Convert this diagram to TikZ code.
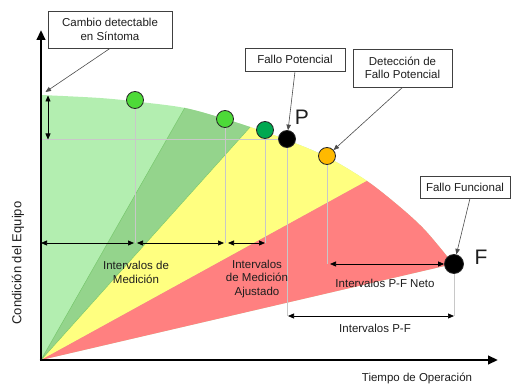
\documentclass[tikz,border=0pt]{standalone}
\usepackage{fontspec}
\setmainfont{Liberation Sans}
\usetikzlibrary{arrows.meta}
\definecolor{lgreen}{RGB}{179,238,176}
\definecolor{dgreen}{RGB}{148,212,140}
\definecolor{edgegreen}{RGB}{120,200,110}
\definecolor{yel}{RGB}{255,255,128}
\definecolor{redc}{RGB}{255,128,128}
\definecolor{cgreen}{RGB}{77,218,56}
\definecolor{cdgreen}{RGB}{0,168,80}
\definecolor{corange}{RGB}{255,185,0}
\definecolor{glinec}{RGB}{200,200,200}
\definecolor{txt}{RGB}{30,30,30}
\begin{document}
\begin{tikzpicture}[x=1pt,y=-1pt,
  lbl/.style={font=\fontsize{11.5}{13.8}\selectfont, align=center, text=txt, inner sep=0pt},
  bigl/.style={font=\fontsize{21}{24}\selectfont, text=txt, inner sep=0pt},
  callbox/.style={draw=black!75, fill=white, line width=0.8pt, font=\fontsize{11.5}{13.4}\selectfont, align=center, text=txt, inner sep=0pt},
  dot/.style={circle, draw=black!85, line width=0.8pt, minimum size=17pt, inner sep=0pt},
  gline/.style={draw=glinec, line width=0.8pt},
  dimline/.style={draw=black, line width=0.7pt, {Triangle[length=6pt,width=5pt]}-{Triangle[length=6pt,width=5pt]}},
  callline/.style={draw=black!70, line width=0.6pt, -{Triangle[length=5.5pt,width=4.5pt]}},
  axisline/.style={draw=black, line width=2.8pt, -{Triangle[length=10pt,width=8.5pt]}}]
\useasboundingbox (0,0) rectangle (512,385);
\def\region{(41,360) -- plot[smooth,tension=0.55] coordinates {(41,95) (100,98) (140,102) (185,108) (225,119) (253,128) (287,140) (327,157) (367,181) (400,207) (423,228) (442,250) (453,264)} -- cycle}
% coloured zones
\begin{scope}
  \clip \region;
  \fill[lgreen] (0,0) rectangle (512,385);
  \fill[dgreen] (41,360) -- (228,32) -- (313,57) -- cycle;
  \fill[yel] (41,360) -- (313,57) -- (465,127) -- cycle;
  \fill[redc] (41,360) -- (465,127) -- (600,127) -- (600,400) -- (41,400) -- cycle;
  \draw[edgegreen, line width=0.5pt] (228,32) -- (41,360) -- (313,57);
\end{scope}
% named points
\coordinate (O) at (41,360);
\coordinate (sym) at (45.5,92);
\coordinate (top) at (48,95.5);
\coordinate (tol) at (48,139.5);
\coordinate (meas) at (41,243);
\coordinate (pf) at (41,316);
\coordinate (ytip) at (41,30);
\coordinate (xtip) at (498,360);
% circles
\node[dot, fill=cgreen] (m1) at (135,100) {};
\node[dot, fill=cgreen] (m2) at (225,119) {};
\node[dot, fill=cdgreen] (m3) at (265,130) {};
\node[dot, fill=black] (P) at (287,139) {};
\node[dot, fill=corange] (og) at (327,156) {};
\node[dot, fill=black, minimum size=19pt] (F) at (454,264) {};
% grey guide lines
\draw[gline] (P.west) -- (P.west -| O);
\draw[gline] (m1) -- (m1 |- meas);
\draw[gline] (m2) -- (m2 |- meas);
\draw[gline] (m3) -- (m3 |- meas);
\draw[gline] (P) -- (P |- pf);
\draw[gline] (F) -- (F |- pf);
\draw[gline] (og) -- (og |- F);
% axes
\draw[axisline] ([yshift=1.4pt]O) -- (ytip);
\draw[axisline] ([xshift=-1.4pt]O) -- (xtip);
% dimension arrows
\draw[dimline] (top) -- (tol);
\draw[dimline] (meas) -- ([xshift=-1pt]m1 |- meas);
\draw[dimline] ([xshift=2pt]m1 |- meas) -- ([xshift=-1pt]m2 |- meas);
\draw[dimline] ([xshift=3pt]m2 |- meas) -- (m3 |- meas);
\draw[dimline] ([xshift=3pt]og |- F) -- (F.west);
\draw[dimline] ([xshift=1pt]P |- pf) -- (F |- pf);
% labels
\node[lbl] (l1) at (136,272) {Intervalos de\\Medición};
\node[lbl] (l2) at (257,279) {Intervalos\\de Medición\\Ajustado};
\node[lbl] (l3) at (385,283) {Intervalos P-F Neto};
\node[lbl] (l4) at (375,328) {Intervalos P-F};
\node[lbl] (l5) at (417,378) {Tiempo de Operación};
\node[lbl, rotate=90, font=\fontsize{13}{15}\selectfont] (l6) at (18,263) {Condición del Equipo};
\node[bigl] (pl) at (302,117) {P};
\node[bigl] (fl) at (481,257) {F};
% callout boxes
\node[callbox, minimum width=124pt, minimum height=37pt] (b1) at (110,29.5) {Cambio detectable\\en Síntoma};
\node[callbox, minimum width=100pt, minimum height=23pt] (b2) at (295,59.5) {Fallo Potencial};
\node[callbox, minimum width=99pt, minimum height=38pt] (b3) at (402.5,68) {Detección de\\Fallo Potencial};
\node[callbox, minimum width=90pt, minimum height=22pt] (b4) at (465,187) {Fallo Funcional};
\draw[callline] (b1.south) -- (sym);
\draw[callline] (b2.south) -- (P);
\draw[callline] (b3.south) -- (og);
\draw[callline] ([xshift=5pt]b4.south) -- (F);
\end{tikzpicture}
\end{document}
